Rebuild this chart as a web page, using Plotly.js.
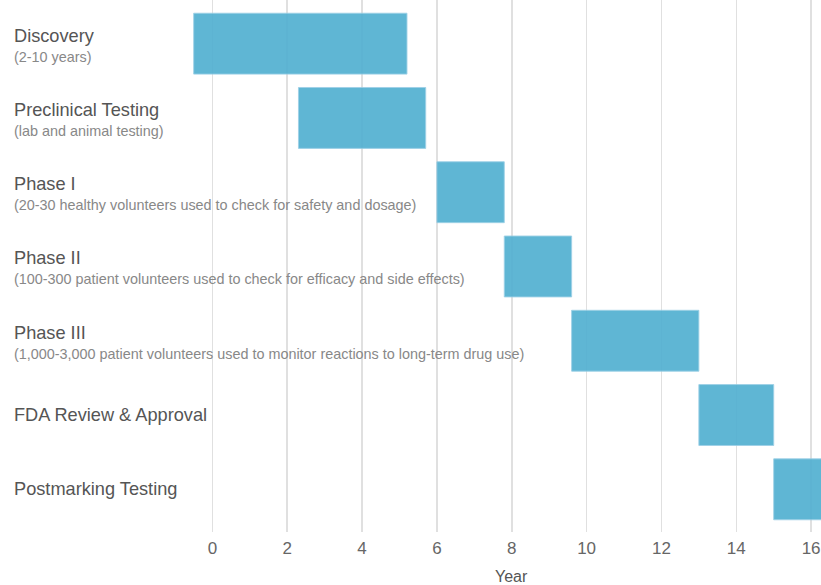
<!DOCTYPE html>
<html>
<head>
<meta charset="utf-8">
<script src="https://cdn.plot.ly/plotly-3.0.1.min.js"></script>
<style>
  html, body { margin: 0; padding: 0; background: #fff; }
  #chart { width: 821px; height: 585px; }
</style>
</head>
<body>
<div id="chart"></div>
<script>
// Stages of drug development, in order
const stages = [
  "Discovery",
  "Preclinical Testing",
  "Phase I",
  "Phase II",
  "Phase III",
  "FDA Review & Approval",
  "Postmarking Testing"
];
const notes = [
  "(2-10 years)",
  "(lab and animal testing)",
  "(20-30 healthy volunteers used to check for safety and dosage)",
  "(100-300 patient volunteers used to check for efficacy and side effects)",
  "(1,000-3,000 patient volunteers used to monitor reactions to long-term drug use)",
  "",
  ""
];
// Start and end of each stage, in years
const startYear = [-0.5, 2.3, 6.0, 7.8, 9.6, 13.0, 15.0];
const endYear   = [5.2, 5.7, 7.8, 9.6, 13.0, 15.0, 17.0];
const yearTicks = [0, 2, 4, 6, 8, 10, 12, 14, 16];

const FONT = "'Liberation Sans', Arial, sans-serif";

const durations = startYear.map((s, i) => endYear[i] - s);

const trace = {
  type: "bar",
  orientation: "h",
  y: stages,
  x: durations,
  base: startYear,
  width: 0.82,
  marker: {
    color: "rgb(82,176,209)",
    opacity: 0.92,
    line: { color: "rgba(150,205,228,0.9)", width: 1 }
  },
  hoverinfo: "skip"
};

const annotations = [];
stages.forEach((name, i) => {
  const hasNote = notes[i] !== "";
  annotations.push({
    xref: "paper", yref: "y",
    x: 12 / 821, y: name,
    xanchor: "left", yanchor: "middle",
    yshift: hasNote ? 8 : 0,
    text: name,
    showarrow: false,
    font: { family: FONT, size: 18.2, color: "#555" }
  });
  if (hasNote) {
    annotations.push({
      xref: "paper", yref: "y",
      x: 12 / 821, y: name,
      xanchor: "left", yanchor: "middle",
      yshift: -13,
      text: notes[i],
      showarrow: false,
      font: { family: FONT, size: 14.4, color: "#888" }
    });
  }
});
annotations.push({
  xref: "x", yref: "paper",
  x: 8, y: 0,
  xanchor: "center", yanchor: "middle",
  yshift: -44,
  text: "Year",
  showarrow: false,
  font: { family: FONT, size: 16, color: "#555" }
});

const layout = {
  width: 821,
  height: 585,
  margin: { l: 0, r: 0, t: 0, b: 53 },
  paper_bgcolor: "#fff",
  plot_bgcolor: "#fff",
  showlegend: false,
  xaxis: {
    range: [-5.676, 16.264],
    tickvals: yearTicks,
    ticktext: yearTicks.map(String),
    showgrid: true,
    gridcolor: "#e0e0e0",
    gridwidth: 1.5,
    zeroline: false,
    showline: false,
    ticks: "",
    ticklabelstandoff: 4,
    ticklabeloverflow: "allow",
    tickfont: { family: FONT, size: 17, color: "#666" },
    fixedrange: true
  },
  yaxis: {
    type: "category",
    range: [6.575, -0.588],
    showticklabels: false,
    showgrid: false,
    zeroline: false,
    showline: false,
    ticks: "",
    fixedrange: true
  },
  annotations: annotations
};

Plotly.newPlot("chart", [trace], layout, { displayModeBar: false, staticPlot: true });
</script>
</body>
</html>
